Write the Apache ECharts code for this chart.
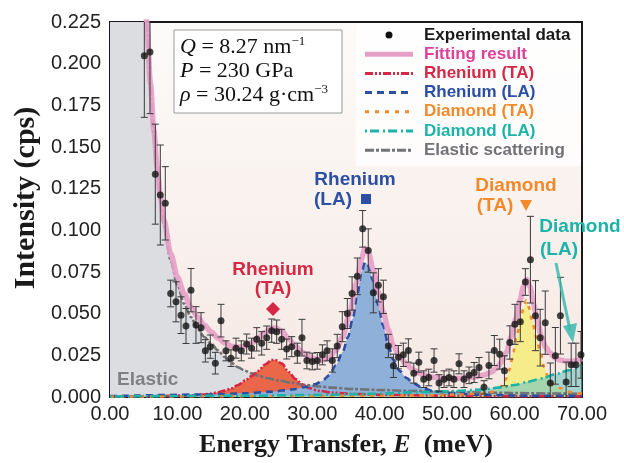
<!DOCTYPE html>
<html><head><meta charset="utf-8">
<script src="https://cdn.jsdelivr.net/npm/echarts@6/dist/echarts.min.js"></script>
<style>html,body{margin:0;padding:0;background:#fff}#c{width:624px;height:463px}</style>
</head><body><div id="c"></div>
<script>
// ---------- data ----------
const xTicks = [0, 10, 20, 30, 40, 50, 60, 70];
const yTicks = [0, 0.025, 0.05, 0.075, 0.1, 0.125, 0.15, 0.175, 0.2, 0.225];

const dataX = [5.09,5.93,6.72,7.46,8.2,9.0,9.79,10.53,11.27,12.01,12.75,13.5,14.14,14.87,15.62,16.46,17.2,17.94,18.69,19.47,20.27,21.0,21.76,22.5,23.24,23.98,24.72,25.46,26.2,26.95,27.78,28.47,29.2,30.0,30.74,31.5,32.2,32.97,33.7,34.45,35.2,35.9,36.68,37.47,38.3,39.05,39.8,40.54,41.28,42.03,42.77,43.5,44.25,45.05,45.8,46.53,47.27,48.06,48.8,49.54,50.28,51.0,51.76,52.5,53.25,54.0,54.73,55.47,56.2,57.0,57.8,58.5,59.3,60.06,60.85,61.6,62.35,63.1,63.8,64.55,65.3,66.05,66.8,67.65,68.4,69.1,69.85];
const dataY = [0.2048,0.207,0.1337,0.1212,0.1162,0.0621,0.0571,0.0491,0.0426,0.0641,0.0432,0.0416,0.0277,0.0302,0.0203,0.0458,0.0277,0.0233,0.0293,0.0277,0.0318,0.0293,0.0346,0.0322,0.0356,0.0398,0.0392,0.0346,0.0288,0.0302,0.0263,0.0356,0.0219,0.0213,0.0217,0.0253,0.0277,0.0219,0.0306,0.0422,0.0501,0.0621,0.0724,0.1009,0.0879,0.0625,0.067,0.0601,0.0306,0.0187,0.0239,0.0253,0.0279,0.0143,0.0209,0.0107,0.0117,0.0219,0.0084,0.0107,0.0117,0.0107,0.0199,0.0107,0.013,0.0147,0.0177,0.0058,0.0189,0.0279,0.0257,0.0157,0.0327,0.0436,0.0452,0.069,0.0824,0.0488,0.0356,0.0446,0.0084,0.0247,0.0488,0.009,0.0193,0.0193,0.0253];
const dataErr = [0.037,0.037,0.030,0.030,0.022,0.008,0.012,0.011,0.0105,0.013,0.011,0.009,0.0067,0.007,0.0065,0.0098,0.006,0.005,0.006,0.006,0.006,0.006,0.007,0.007,0.007,0.007,0.007,0.006,0.006,0.006,0.006,0.011,0.005,0.005,0.005,0.006,0.006,0.007,0.007,0.009,0.009,0.010,0.011,0.011,0.013,0.012,0.010,0.010,0.007,0.007,0.007,0.007,0.007,0.006,0.006,0.005,0.005,0.007,0.005,0.005,0.005,0.005,0.006,0.005,0.005,0.006,0.006,0.004,0.008,0.009,0.009,0.009,0.010,0.012,0.012,0.008,0.026,0.021,0.017,0.019,0.012,0.017,0.023,0.012,0.013,0.013,0.014];

const fitX = [0,3,4.5,5.45,6,6.5,7,7.5,8,9,10,11,12,13,14,15,16,17,18,19,20,21,22,23,24,24.5,25.5,26.5,27.5,28.5,29.5,30.5,31.5,32.5,33.5,34.5,35.5,36.5,37.3,37.8,38.3,39,39.8,40.5,41.3,42,43,44,45,46.5,48,49.5,51.4,53.9,55.5,56.5,57.3,58,58.8,59.5,60.2,60.8,61.3,61.8,62.3,62.8,63.4,64,64.6,65.3,66,66.7,67.7,68.7,69.5,70];
const fitY = [2.0,0.7,0.33,0.225,0.188,0.16,0.138,0.12,0.106,0.086,0.072,0.062,0.054,0.048,0.043,0.039,0.0355,0.0325,0.0305,0.0298,0.0305,0.0325,0.0355,0.0388,0.0412,0.0415,0.0395,0.035,0.0305,0.0268,0.0242,0.0226,0.0222,0.0235,0.028,0.036,0.0495,0.068,0.083,0.089,0.087,0.077,0.063,0.051,0.04,0.031,0.024,0.0193,0.0162,0.0133,0.0118,0.0112,0.0111,0.0119,0.0132,0.0148,0.017,0.0205,0.027,0.036,0.047,0.058,0.066,0.0705,0.066,0.056,0.045,0.036,0.030,0.0262,0.0235,0.0222,0.0215,0.0214,0.0222,0.023];

const elasticX = [0,3,4.5,5.45,6,6.5,7,7.5,8,9,10,11,12,13,14,15,16,17,18,19,20,21,22,23.2,25,27,29,31,33,36,40,45,50,55,60,65,70];
const elasticY = [2.0,0.7,0.33,0.224,0.184,0.156,0.135,0.117,0.103,0.082,0.067,0.056,0.048,0.041,0.036,0.032,0.028,0.024,0.0205,0.0178,0.0158,0.0142,0.0128,0.0114,0.0099,0.0085,0.0072,0.0063,0.0056,0.0048,0.0042,0.0036,0.0031,0.0027,0.0024,0.0021,0.0019];

const reTAX = [0,8,12,14,15,16,17,18,19,20,21,22,23,24,24.5,25.5,26.5,27.5,28.5,29.5,31,33,36,40,50,60,70];
const reTAY = [0.0002,0.0006,0.001,0.0015,0.002,0.0028,0.0038,0.0052,0.0072,0.0098,0.0125,0.0157,0.0195,0.0222,0.0222,0.02,0.015,0.0108,0.0076,0.0054,0.0037,0.0026,0.0018,0.0013,0.0008,0.0005,0.0004];

const reLAX = [0,15,20,24,27,29,30.5,31.5,32.5,33.5,34.5,35.3,36,36.7,37.3,37.8,38.3,39,39.8,40.5,41.3,42,43,44,45,46.5,48,50,55,62,70];
const reLAY = [0.0005,0.0015,0.0022,0.0032,0.0045,0.006,0.0078,0.0098,0.013,0.019,0.027,0.036,0.047,0.062,0.075,0.081,0.079,0.07,0.055,0.043,0.031,0.0225,0.0155,0.0113,0.0082,0.0052,0.0035,0.0024,0.0013,0.0008,0.0006];

const dTAX = [0,45,52,55,56.5,57.8,58.3,58.8,59.3,59.8,60.3,60.8,61.3,61.7,62.1,62.6,63.2,63.8,64.4,65.0,65.8,66.7,68.7,70];
const dTAY = [0.0002,0.0008,0.0015,0.0021,0.003,0.0054,0.0078,0.0113,0.017,0.027,0.036,0.045,0.053,0.058,0.054,0.046,0.036,0.027,0.018,0.0113,0.0075,0.0054,0.0026,0.0019];

const dLAX = [0,20,30,40,45,50,55,58,60,62,64,66,68,70];
const dLAY = [0.0003,0.0008,0.0012,0.002,0.0028,0.0034,0.0044,0.0058,0.0072,0.0091,0.0112,0.0136,0.016,0.019];

// ---------- build ----------
const zip = (a, b) => a.map((v, i) => [v, b[i]]);
const SANS = '"Liberation Sans", Arial, sans-serif';
const SERIF = '"Liberation Serif", "Times New Roman", serif';

const C = {
  fit: '#e69fc7', fitText: '#e0409a',
  reTA: '#d42845', reLA: '#2c4fa3', dTA: '#f28a2c', dLA: '#1cb3a8', el: '#707276'
};

function areaSeries(name, x, y, color, op) {
  return { name, type: 'line', data: zip(x, y), smooth: 0.3, smoothMonotone: 'x', symbol: 'none',
    lineStyle: { width: 0 }, areaStyle: { color, opacity: op }, silent: true, clip: true };
}
function lineSeries(name, x, y, color, dash, w) {
  return { name, type: 'line', data: zip(x, y), smooth: 0.3, smoothMonotone: 'x', symbol: 'none',
    lineStyle: { color, width: w || 2.6, type: dash }, silent: true, clip: true };
}

const chart = echarts.init(document.getElementById('c'), null, { renderer: 'canvas' });

const legendRows = [
  { t: 'Experimental data', c: '#1a1a1a', sym: 'dot' },
  { t: 'Fitting result', c: C.fitText, line: C.fit, dash: null, w: 5 },
  { t: 'Rhenium (TA)', c: C.reTA, line: C.reTA, dash: [8, 2, 2, 2, 2, 2], w: 3 },
  { t: 'Rhenium (LA)', c: C.reLA, line: C.reLA, dash: [7, 5], w: 3 },
  { t: 'Diamond (TA)', c: C.dTA, line: C.dTA, dash: [4, 6], w: 3 },
  { t: 'Diamond (LA)', c: C.dLA, line: C.dLA, dash: [2, 3, 9, 4], w: 3 },
  { t: 'Elastic scattering', c: C.el, line: C.el, dash: [9, 2, 3, 2], w: 3 }
];
const legendY0 = 35, legendDy = 19.2;
const graphics = [];
graphics.push({ type: 'rect', shape: { x: 356, y: 23, width: 225, height: 143 }, style: { fill: 'rgba(255,255,255,0.75)' }, z: 20 });
legendRows.forEach((r, i) => {
  const y = legendY0 + i * legendDy;
  if (r.sym === 'dot') {
    graphics.push({ type: 'circle', shape: { cx: 389, cy: y, r: 3.5 }, style: { fill: '#111' }, z: 21 });
  } else {
    graphics.push({ type: 'line', shape: { x1: 365, y1: y, x2: 413, y2: y },
      style: { stroke: r.line, lineWidth: r.w, lineDash: r.dash || null }, z: 21 });
  }
  graphics.push({ type: 'text', x: 424, y: y, style: { text: r.t, fill: r.c, font: 'bold 17px ' + SANS, textVerticalAlign: 'middle' }, z: 21 });
});

// parameter box
graphics.push({ type: 'rect', shape: { x: 174, y: 30, width: 168, height: 83 }, style: { fill: '#fff', stroke: '#9a9a9a', lineWidth: 1 }, z: 20 });
graphics.push({ type: 'text', x: 180, y: 35, z: 21, style: {
  text: '{i|Q} = 8.27 nm{s|−1}\n{i|P} = 230 GPa\n{i|ρ} = 30.24 g·cm{s|−3}',
  font: '22px ' + SERIF, fill: '#111', lineHeight: 24,
  rich: { i: { fontStyle: 'italic', fontFamily: SERIF, fontSize: 22, lineHeight: 24 },
          s: { fontSize: 13, fontFamily: SERIF, verticalAlign: 'top', lineHeight: 24, padding: [0, 0, 8, 0] } }
}});

// y-axis title
graphics.push({ type: 'text', x: 26, y: 198, rotation: Math.PI / 2, z: 22, style: {
  text: 'Intensity (cps)', fill: '#1a1a1a', font: 'bold 30px ' + SERIF, textAlign: 'center', textVerticalAlign: 'middle' } });

// peak annotations
function label(x, y, txt, color) {
  graphics.push({ type: 'text', x, y, z: 22, style: { text: txt, fill: color, font: 'bold 19px ' + SANS, textAlign: 'center', textVerticalAlign: 'middle' } });
}
label(273, 270, 'Rhenium', C.reTA); label(273, 289, '(TA)', C.reTA);
graphics.push({ type: 'polygon', z: 22, shape: { points: [[273, 302], [280, 309], [273, 316], [266, 309]] }, style: { fill: C.reTA } });
label(355, 180, 'Rhenium', C.reLA); label(333, 200, '(LA)', C.reLA);
graphics.push({ type: 'rect', z: 22, shape: { x: 361, y: 194, width: 10, height: 10 }, style: { fill: C.reLA } });
label(516, 186, 'Diamond', C.dTA); label(495, 206, '(TA)', C.dTA);
graphics.push({ type: 'polygon', z: 22, shape: { points: [[520, 200], [532, 200], [526, 211]] }, style: { fill: C.dTA } });
label(580, 227, 'Diamond', C.dLA); label(559, 250, '(LA)', C.dLA);
graphics.push({ type: 'line', z: 22, shape: { x1: 556, y1: 263, x2: 570, y2: 330 }, style: { stroke: 'rgba(60,185,175,0.85)', lineWidth: 3 } });
graphics.push({ type: 'polygon', z: 22, shape: { points: [[563, 326], [577, 323], [573, 343]] }, style: { fill: 'rgba(60,185,175,0.85)' } });
graphics.push({ type: 'text', x: 117, y: 380, z: 22, style: { text: 'Elastic', fill: '#7f8084', font: 'bold 19px ' + SANS, textVerticalAlign: 'middle' } });

const option = {
  animation: false,
  backgroundColor: '#fff',
  grid: { left: 110, right: 42, top: 22, height: 377, show: true,
    backgroundColor: { type: 'linear', x: 0, y: 0, x2: 0, y2: 1, colorStops: [{ offset: 0, color: '#fcfbfa' }, { offset: 1, color: '#f6e8e3' }] },
    borderColor: '#1a1a1a', borderWidth: 2 },
  xAxis: {
    type: 'value', min: xTicks[0], max: xTicks[xTicks.length - 1], interval: 10,
    axisLine: { lineStyle: { color: '#1a1a1a', width: 2 } },
    axisTick: { inside: true, length: 4, lineStyle: { color: '#1a1a1a', width: 1.5 } },
    minorTick: { show: true, splitNumber: 2, length: 4, lineStyle: { color: '#1a1a1a', width: 1.5 } },
    splitLine: { show: false },
    axisLabel: { formatter: v => v.toFixed(2), color: '#222', fontSize: 20, fontFamily: SANS, margin: 7 },
    name: '{b|Energy Transfer, }{bi|E}{b|  (meV)}', nameLocation: 'middle', nameGap: 35,
    nameTextStyle: { rich: { b: { fontFamily: SERIF, fontWeight: 'bold', fontSize: 26, color: '#1a1a1a' },
      bi: { fontFamily: SERIF, fontWeight: 'bold', fontStyle: 'italic', fontSize: 26, color: '#1a1a1a' } } }
  },
  yAxis: {
    type: 'value', min: yTicks[0], max: yTicks[yTicks.length - 1], interval: 0.025,
    axisLine: { show: true, lineStyle: { color: '#1a1a1a', width: 1.5 } },
    axisTick: { show: false },
    splitLine: { show: false },
    axisLabel: { formatter: v => v.toFixed(3), color: '#222', fontSize: 20, fontFamily: SANS, margin: 9 }
  },
  series: [
    areaSeries('elastic-area', elasticX, elasticY, '#dcdde1', 1),
    areaSeries('reTA-area', reTAX, reTAY, '#e9603f', 0.95),
    areaSeries('reLA-area', reLAX, reLAY, '#8eb0d9', 1),
    areaSeries('dTA-area', dTAX, dTAY, '#f6ec8a', 1),
    areaSeries('dLA-area', dLAX, dLAY, '#6fc7c3', 0.6),
    lineSeries('Elastic scattering', elasticX, elasticY, C.el, [9, 2, 3, 2]),
    lineSeries('Rhenium (TA)', reTAX, reTAY, C.reTA, [8, 2, 2, 2, 2, 2]),
    lineSeries('Rhenium (LA)', reLAX, reLAY, C.reLA, [7, 5]),
    lineSeries('Diamond (TA)', dTAX, dTAY, C.dTA, [4, 6]),
    lineSeries('Diamond (LA)', dLAX, dLAY, C.dLA, [2, 3, 9, 4]),
    { name: 'Fitting result', type: 'line', data: zip(fitX, fitY), smooth: 0.3, smoothMonotone: 'x', symbol: 'none',
      lineStyle: { color: C.fit, width: 5.5, opacity: 0.92 }, z: 3, clip: true },
    { name: 'err', type: 'custom', clip: true, z: 4,
      data: dataX.map((x, i) => [x, dataY[i], dataErr[i]]),
      renderItem: (params, api) => {
        const x = api.value(0), y = api.value(1), e = api.value(2);
        const t = api.coord([x, y + e]), b = api.coord([x, y - e]);
        const hw = 3.5, st = { stroke: '#3a3a3a', lineWidth: 1 };
        return { type: 'group', children: [
          { type: 'line', shape: { x1: t[0], y1: t[1], x2: b[0], y2: b[1] }, style: st },
          { type: 'line', shape: { x1: t[0] - hw, y1: t[1], x2: t[0] + hw, y2: t[1] }, style: st },
          { type: 'line', shape: { x1: b[0] - hw, y1: b[1], x2: b[0] + hw, y2: b[1] }, style: st }
        ] };
      } },
    { name: 'Experimental data', type: 'scatter', data: zip(dataX, dataY), symbolSize: 7,
      itemStyle: { color: '#151515' }, z: 5, clip: true }
  ],
  graphic: graphics
};
chart.setOption(option);
</script></body></html>
